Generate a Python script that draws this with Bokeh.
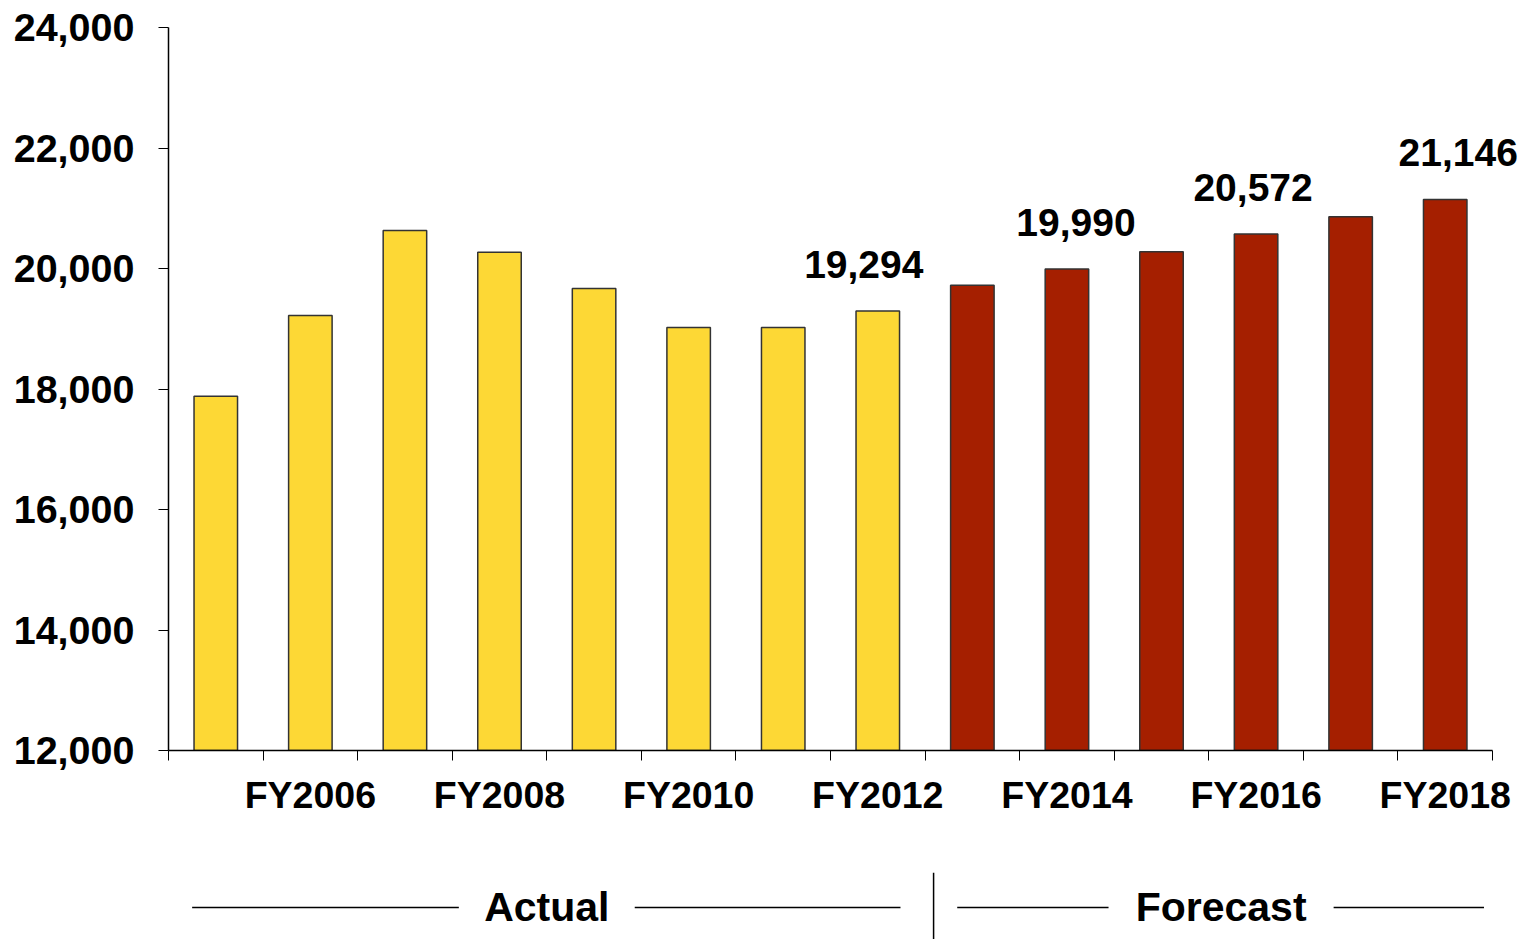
from bokeh.plotting import figure
from bokeh.layouts import column
from bokeh.models import (ColumnDataSource, FixedTicker, NumeralTickFormatter,
                          Range1d, Label)
from bokeh.embed import file_html
from bokeh.resources import INLINE

# ---------------- data ----------------
years = ["FY2005", "FY2006", "FY2007", "FY2008", "FY2009", "FY2010", "FY2011",
         "FY2012", "FY2013", "FY2014", "FY2015", "FY2016", "FY2017", "FY2018"]
values = [17880, 19220, 20630, 20270, 19670, 19020, 19020,
          19294, 19720, 19990, 20280, 20572, 20860, 21146]
is_forecast = [False] * 8 + [True] * 6
labeled_years = ["FY2012", "FY2014", "FY2016", "FY2018"]
y_ticks = [12000, 14000, 16000, 18000, 20000, 22000, 24000]
tick_label_years = ["FY2006", "FY2008", "FY2010", "FY2012", "FY2014", "FY2016", "FY2018"]
group_names = ["Actual", "Forecast"]

ACTUAL_COLOR = "#FDD835"
FORECAST_COLOR = "#A51F00"
FONT = "Liberation Sans"
label_dx = [-14, 9, -3, 13]   # horizontal nudges of value labels (px)

xs = list(range(1, len(years) + 1))
colors = [FORECAST_COLOR if f else ACTUAL_COLOR for f in is_forecast]
src = ColumnDataSource(dict(x=xs, top=values, color=colors, year=years))

W = 1526
LEFT = 168
RIGHT_PAD = 34            # space right of the x axis end
cat_px = (W - LEFT - RIGHT_PAD) / len(years)
x_lo, x_hi = 0.5, len(years) + 0.5
# frame extends to the right edge so value labels are not clipped
x_range = Range1d(x_lo, x_hi + RIGHT_PAD / cat_px)

p = figure(width=W, height=850, x_range=x_range, y_range=Range1d(12000, 24000),
           output_backend="svg", toolbar_location=None,
           min_border_left=LEFT, min_border_right=0, min_border_top=27,
           min_border_bottom=100)
p.outline_line_color = None
p.grid.grid_line_color = None

p.vbar(x="x", top="top", bottom=12000, width=0.46, fill_color="color",
       line_color="#333333", line_width=1.5, source=src)

for yr, dx in zip(labeled_years, label_dx):
    i = years.index(yr)
    p.add_layout(Label(x=xs[i], y=values[i], text=f"{values[i]:,}",
                       text_align="center", text_baseline="alphabetic",
                       x_offset=dx, y_offset=47, text_font=FONT,
                       text_font_style="bold", text_font_size="39px",
                       text_color="black"))

# x axis: major ticks (labels) at every other year, minor ticks at category boundaries
tick_pos = [xs[years.index(y)] for y in tick_label_years]
p.xaxis.bounds = (x_lo, x_hi)
p.xaxis.ticker = FixedTicker(ticks=tick_pos,
                             minor_ticks=[x - 0.5 for x in xs] + [xs[-1] + 0.5])
p.xaxis.major_label_overrides = {t: y for t, y in zip(tick_pos, tick_label_years)}
p.xaxis.major_tick_out = 0
p.xaxis.major_tick_in = 0
p.xaxis.minor_tick_out = 10
p.xaxis.minor_tick_in = 0
p.xaxis.minor_tick_line_color = "black"
p.xaxis.axis_line_color = "black"
p.xaxis.axis_line_width = 1.5
p.xaxis.major_label_standoff = 13
p.xaxis.major_label_text_font = FONT
p.xaxis.major_label_text_font_style = "bold"
p.xaxis.major_label_text_font_size = "37.5px"
p.xaxis.major_label_text_color = "black"

p.yaxis.ticker = FixedTicker(ticks=y_ticks)
p.yaxis.formatter = NumeralTickFormatter(format="0,0")
p.yaxis.major_tick_out = 10
p.yaxis.major_tick_in = 0
p.yaxis.minor_tick_line_color = None
p.yaxis.axis_line_color = "black"
p.yaxis.axis_line_width = 1.5
p.yaxis.major_tick_line_color = "black"
p.yaxis.major_label_standoff = 24
p.yaxis.major_label_text_font = FONT
p.yaxis.major_label_text_font_style = "bold"
p.yaxis.major_label_text_font_size = "39.5px"
p.yaxis.major_label_text_color = "black"

# ---------------- bottom strip: Actual / Forecast ----------------
s = figure(width=W, height=89, x_range=x_range, y_range=Range1d(0, 1),
           output_backend="svg", toolbar_location=None,
           min_border_left=LEFT, min_border_right=0, min_border_top=0,
           min_border_bottom=0, x_axis_location=None, y_axis_location=None)
s.outline_line_color = None
s.grid.grid_line_color = None

n_act = is_forecast.count(False)
groups = [(x_lo, n_act + 0.5), (n_act + 0.5, x_hi)]
text_half = [0.74, 0.98]      # half width of each group label, in category units
text_center_shift = [0.0, 0.13]
pad_l = [0.25, 0.34]
pad_r = [0.26, 0.09]
line_y = 0.36
gaps = [0.19, 0.21]

x0s, x1s = [], []
for (a, b), name, hw, sh, pl, pr, gap in zip(groups, group_names, text_half,
                                             text_center_shift, pad_l, pad_r, gaps):
    c = (a + b) / 2 + sh
    x0s += [a + pl, c + hw + gap]
    x1s += [c - hw - gap, b - pr]
    s.add_layout(Label(x=c, y=line_y, text=name, text_align="center",
                       text_baseline="middle", text_font=FONT,
                       text_font_style="bold", text_font_size="41px",
                       text_color="black"))
s.segment(x0=x0s, y0=[line_y] * len(x0s), x1=x1s, y1=[line_y] * len(x1s),
          line_color="black", line_width=1.5)
sep_x = n_act + 0.5 + 0.09
s.segment(x0=[sep_x], y0=[0], x1=[sep_x], y1=[0.75], line_color="black",
          line_width=1.5)

layout = column(p, s, spacing=0)
open("out.html", "w").write(file_html(layout, INLINE))
